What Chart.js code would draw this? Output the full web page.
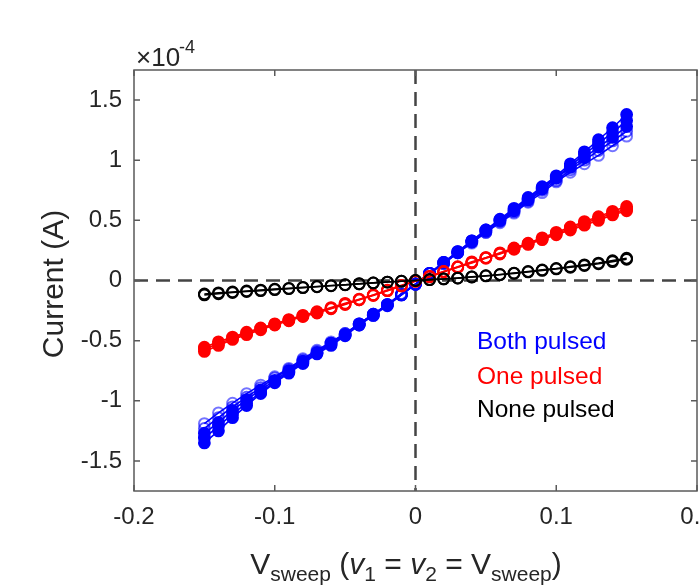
<!DOCTYPE html>
<html>
<head>
<meta charset="utf-8">
<script src="https://cdn.jsdelivr.net/npm/chart.js@4.4.1/dist/chart.umd.min.js"></script>
<style>
  html, body { margin:0; padding:0; background:#fff; overflow:hidden; width:699px; height:585px; }
  #wrap { position:absolute; left:0; top:0; width:760px; height:585px; }
</style>
</head>
<body>
<div id="wrap"><canvas id="c" width="760" height="585"></canvas></div>
<script>
// ---- data (current in units of 1e-4 A) ----
const volts = [-0.15,-0.14,-0.13,-0.12,-0.11,-0.10,-0.09,-0.08,-0.07,-0.06,-0.05,-0.04,-0.03,-0.02,-0.01,0,
               0.01,0.02,0.03,0.04,0.05,0.06,0.07,0.08,0.09,0.10,0.11,0.12,0.13,0.14,0.15];

const bothSweep1 = [-1.35,-1.25,-1.14,-1.04,-0.94,-0.85,-0.77,-0.69,-0.61,-0.54,-0.46,-0.37,-0.29,-0.21,-0.12,-0.03,
                    0.06,0.15,0.24,0.33,0.42,0.51,0.60,0.69,0.78,0.87,0.97,1.07,1.17,1.27,1.38];
const bothSweep2 = [-1.31,-1.21,-1.11,-1.02,-0.93,-0.84,-0.76,-0.68,-0.60,-0.53,-0.45,-0.37,-0.29,-0.20,-0.12,-0.03,
                    0.06,0.15,0.24,0.33,0.42,0.50,0.59,0.68,0.77,0.86,0.95,1.05,1.14,1.23,1.33];
const bothSweep3 = [-1.27,-1.18,-1.08,-0.99,-0.91,-0.83,-0.75,-0.67,-0.60,-0.52,-0.45,-0.36,-0.28,-0.20,-0.12,-0.03,
                    0.06,0.15,0.23,0.32,0.41,0.50,0.58,0.67,0.76,0.85,0.94,1.02,1.11,1.19,1.28];
const bothSweep4 = [-1.23,-1.14,-1.05,-0.97,-0.89,-0.81,-0.74,-0.66,-0.59,-0.52,-0.44,-0.36,-0.28,-0.20,-0.11,-0.03,
                    0.06,0.14,0.23,0.32,0.40,0.49,0.57,0.66,0.75,0.83,0.92,1.00,1.08,1.16,1.24];
const bothSweep5 = [-1.19,-1.10,-1.02,-0.94,-0.87,-0.80,-0.73,-0.65,-0.58,-0.51,-0.44,-0.36,-0.28,-0.20,-0.11,-0.03,
                    0.06,0.14,0.23,0.31,0.40,0.48,0.56,0.65,0.73,0.82,0.90,0.97,1.04,1.12,1.20];

const oneSweep1 = [-0.59,-0.54,-0.49,-0.45,-0.41,-0.37,-0.335,-0.30,-0.27,-0.235,-0.20,-0.16,-0.125,-0.085,-0.045,-0.005,
                   0.035,0.075,0.115,0.155,0.19,0.23,0.27,0.31,0.355,0.40,0.445,0.49,0.53,0.575,0.615];
const oneSweep2 = [-0.57,-0.525,-0.48,-0.44,-0.40,-0.365,-0.33,-0.295,-0.265,-0.23,-0.195,-0.16,-0.12,-0.085,-0.045,-0.005,
                   0.035,0.075,0.11,0.15,0.19,0.225,0.265,0.305,0.345,0.39,0.43,0.475,0.515,0.56,0.595];
const oneSweep3 = [-0.555,-0.51,-0.47,-0.43,-0.395,-0.36,-0.325,-0.29,-0.26,-0.225,-0.19,-0.155,-0.12,-0.08,-0.04,-0.005,
                   0.03,0.07,0.11,0.145,0.185,0.22,0.26,0.30,0.34,0.38,0.42,0.46,0.50,0.545,0.58];

const noneSweep1 = [-0.12,-0.11,-0.10,-0.092,-0.084,-0.076,-0.068,-0.06,-0.052,-0.044,-0.036,-0.028,-0.02,-0.013,-0.006,0,
                    0.007,0.013,0.02,0.03,0.04,0.05,0.062,0.075,0.088,0.10,0.115,0.13,0.145,0.165,0.185];
const noneSweep2 = [-0.112,-0.103,-0.095,-0.087,-0.08,-0.072,-0.065,-0.057,-0.05,-0.042,-0.035,-0.027,-0.02,-0.013,-0.006,0,
                    0.007,0.013,0.02,0.029,0.038,0.048,0.059,0.071,0.084,0.096,0.11,0.124,0.139,0.157,0.176];

const xTicks = [-0.2,-0.1,0,0.1,0.2];
const xTickLabels = ['-0.2','-0.1','0','0.1','0.2'];
const yTicks = [-1.5,-1,-0.5,0,0.5,1,1.5];
const yTickLabels = ['-1.5','-1','-0.5','0','0.5','1','1.5'];
const legendLabels = ['Both pulsed','One pulsed','None pulsed'];
const seriesColors = ['#0000ff','#ff0000','#000000'];

// ---- build datasets ----
const FONT = '"Liberation Sans", Arial, Helvetica, sans-serif';
function pts(arr){ return volts.map((v,i)=>({x:v, y:arr[i]})); }
function ds(arr, color, order, fillFrom, alpha){
  const edge = alpha == null ? color : alpha;
  return {
    data: pts(arr),
    borderColor: color,
    borderWidth: 1.6,
    pointRadius: 5.4,
    pointBorderWidth: 2,
    pointBorderColor: edge,
    pointBackgroundColor: (c) => {
      if (fillFrom == null || !c.raw) return 'rgba(255,255,255,0)';
      return Math.abs(c.raw.x) >= fillFrom ? color : 'rgba(255,255,255,0)';
    },
    showLine: true,
    tension: 0,
    order: order
  };
}
const datasets = [
  ds(bothSweep5, seriesColors[0], 6, null, 'rgba(0,0,255,0.55)'),
  ds(bothSweep4, seriesColors[0], 6, null, 'rgba(0,0,255,0.65)'),
  ds(bothSweep3, seriesColors[0], 5, 0.08),
  ds(bothSweep2, seriesColors[0], 5, 0.03),
  ds(bothSweep1, seriesColors[0], 4, 0.02),
  ds(oneSweep3, seriesColors[1], 3, 0.1),
  ds(oneSweep2, seriesColors[1], 3, 0.075),
  ds(oneSweep1, seriesColors[1], 2, 0.065),
  ds(noneSweep2, seriesColors[2], 1, null),
  ds(noneSweep1, seriesColors[2], 0, null)
];

const AX = '#262626';
const deco = {
  id: 'deco',
  beforeDatasetsDraw(chart){
    const {ctx, chartArea:a, scales:{x, y}} = chart;
    ctx.save();
    ctx.strokeStyle = '#444';
    ctx.lineWidth = 2.5;
    ctx.setLineDash([14, 8]);
    const x0 = x.getPixelForValue(0), y0 = y.getPixelForValue(0);
    ctx.beginPath(); ctx.moveTo(x0, a.top); ctx.lineTo(x0, a.bottom); ctx.stroke();
    ctx.beginPath(); ctx.moveTo(a.left, y0); ctx.lineTo(a.right, y0); ctx.stroke();
    ctx.restore();
  },
  afterDraw(chart){
    const {ctx, chartArea:a, scales:{x, y}} = chart;
    ctx.save();
    // box
    ctx.strokeStyle = '#5a5a5a';
    ctx.lineWidth = 1.5;
    ctx.strokeRect(a.left, a.top, a.right - a.left, a.bottom - a.top);
    // inward ticks
    const tl = 6;
    ctx.beginPath();
    xTicks.forEach(v => {
      const px = x.getPixelForValue(v);
      ctx.moveTo(px, a.bottom); ctx.lineTo(px, a.bottom - tl);
      ctx.moveTo(px, a.top); ctx.lineTo(px, a.top + tl);
    });
    yTicks.forEach(v => {
      const py = y.getPixelForValue(v);
      ctx.moveTo(a.left, py); ctx.lineTo(a.left + tl, py);
      ctx.moveTo(a.right, py); ctx.lineTo(a.right - tl, py);
    });
    ctx.stroke();

    // exponent label
    ctx.fillStyle = AX;
    ctx.textBaseline = 'alphabetic';
    ctx.textAlign = 'left';
    ctx.font = '26px ' + FONT;
    ctx.fillText('\u00d710', a.left + 2, 66);
    const w10 = ctx.measureText('\u00d710').width;
    ctx.font = '18px ' + FONT;
    ctx.fillText('-4', a.left + 2 + w10 - 1, 53);

    // y title
    ctx.save();
    ctx.translate(55, 284);
    ctx.rotate(-Math.PI / 2);
    ctx.textAlign = 'center';
    ctx.textBaseline = 'middle';
    ctx.font = '30px ' + FONT;
    ctx.fillText('Current (A)', 0, 0);
    ctx.restore();

    // x title with sub/italic parts
    const parts = [
      {t:'V', f:'30px', dy:0},
      {t:'sweep', f:'21px', dy:7},
      {t:' (', f:'30px', dy:0},
      {t:'v', f:'italic 30px', dy:0},
      {t:'1', f:'21px', dy:7},
      {t:' = ', f:'30px', dy:0},
      {t:'v', f:'italic 30px', dy:0},
      {t:'2', f:'21px', dy:7},
      {t:' = V', f:'30px', dy:0},
      {t:'sweep', f:'21px', dy:7},
      {t:')', f:'30px', dy:0}
    ];
    let total = 0;
    parts.forEach(p => { ctx.font = p.f + ' ' + FONT; p.w = ctx.measureText(p.t).width; total += p.w; });
    let cx = 406 - total / 2;
    const base = 574;
    ctx.textAlign = 'left';
    parts.forEach(p => { ctx.font = p.f + ' ' + FONT; ctx.fillText(p.t, cx, base + p.dy); cx += p.w; });

    // legend text
    ctx.font = '24.5px ' + FONT;
    ctx.textBaseline = 'middle';
    const ly = [342, 377, 410];
    legendLabels.forEach((s, i) => { ctx.fillStyle = seriesColors[i]; ctx.fillText(s, 477, ly[i]); });
    ctx.restore();
  }
};

new Chart(document.getElementById('c'), {
  type: 'scatter',
  data: { datasets },
  options: {
    responsive: false,
    animation: false,
    devicePixelRatio: 1,
    layout: { padding: { top: 70, left: 0, right: 63, bottom: 0 } },
    plugins: { legend: { display: false }, tooltip: { enabled: false } },
    scales: {
      x: {
        type: 'linear', min: -0.2, max: 0.2,
        afterBuildTicks: s => { s.ticks = xTicks.map(v => ({value: v})); },
        afterFit: s => { s.height = 94; },
        grid: { display: false, drawTicks: false },
        border: { display: false },
        ticks: { callback: (v, i) => xTickLabels[i], color: AX, font: { family: FONT, size: 24 }, padding: 12, maxRotation: 0, autoSkip: false }
      },
      y: {
        type: 'linear', min: -1.75, max: 1.75,
        afterBuildTicks: s => { s.ticks = yTicks.map(v => ({value: v})); },
        afterFit: s => { s.width = 134; },
        grid: { display: false, drawTicks: false },
        border: { display: false },
        ticks: { callback: (v, i) => yTickLabels[i], color: AX, font: { family: FONT, size: 24 }, padding: 12, autoSkip: false }
      }
    }
  },
  plugins: [deco]
});
</script>
</body>
</html>
